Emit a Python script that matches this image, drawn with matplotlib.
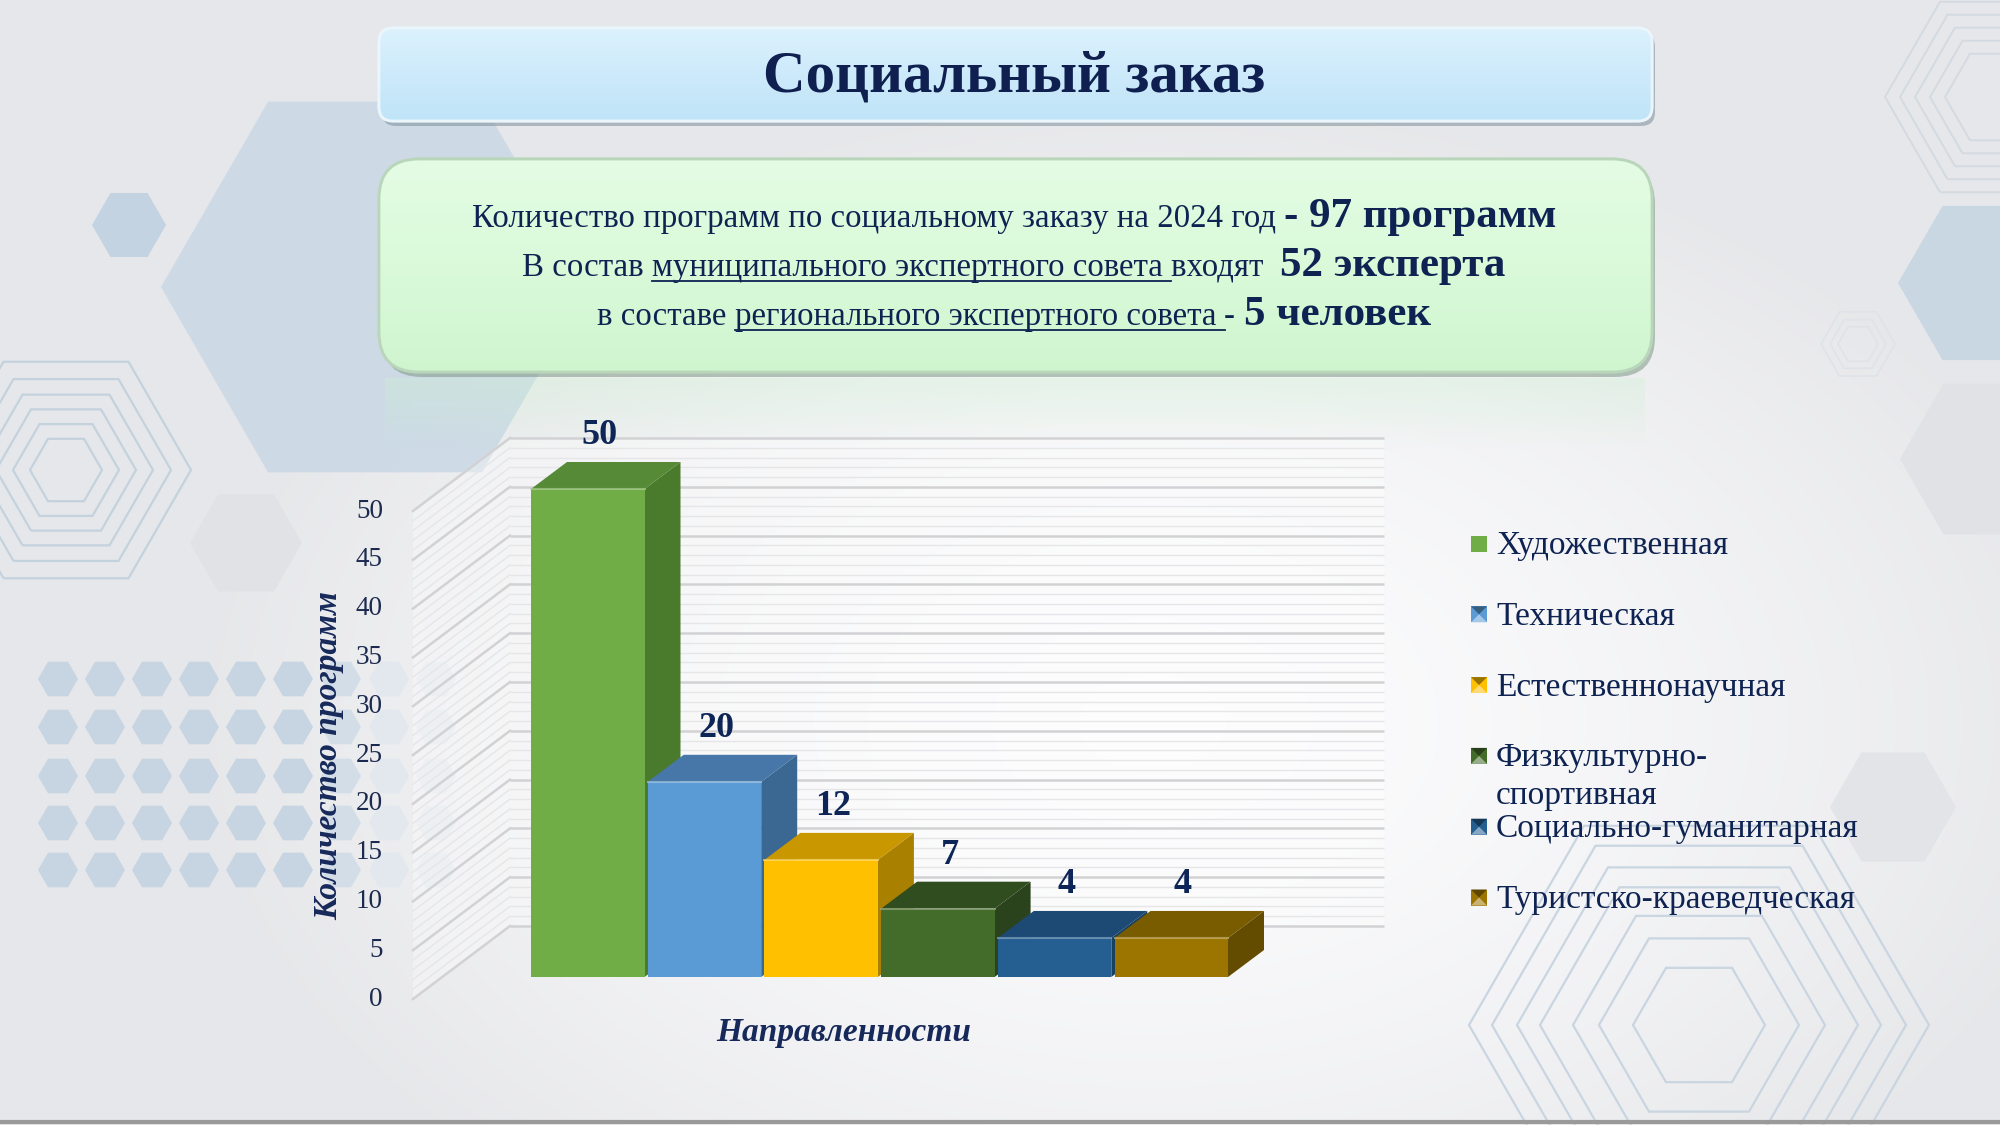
import numpy as np
import matplotlib
matplotlib.use('Agg')
import matplotlib.pyplot as plt
from matplotlib.patches import FancyBboxPatch, Polygon, RegularPolygon, Rectangle
from matplotlib.colors import to_rgb

# ---------------- data ----------------
categories = ['Художественная', 'Техническая', 'Естественнонаучная',
              'Физкультурно-\nспортивная', 'Социально-гуманитарная',
              'Туристско-краеведческая']
values = [50, 20, 12, 7, 4, 4]
y_ticks = [0, 5, 10, 15, 20, 25, 30, 35, 40, 45, 50]
front_colors = ['#70ad47', '#5b9bd5', '#ffc000', '#436b2a', '#255e91', '#9c7500']
top_colors = ['#578a36', '#4677a8', '#c99700', '#2f4d1f', '#1c4a74', '#7a5c00']
side_colors = ['#4a7a2c', '#3b6892', '#a98000', '#2a431c', '#18405f', '#634b00']

title = 'Социальный заказ'
x_title = 'Направленности'
y_title = 'Количество программ'
# (text, size, bold, underline)
info_lines = [
    [('Количество программ по социальному заказу на 2024 год ', 23.7, False, False),
     ('- 97 программ', 31, True, False)],
    [('В состав ', 23.7, False, False),
     ('муниципального экспертного совета ', 23.7, False, True),
     ('входят  ', 23.7, False, False),
     ('52 эксперта', 31, True, False)],
    [('в составе ', 23.7, False, False),
     ('регионального экспертного совета ', 23.7, False, True),
     ('- ', 23.7, False, False),
     ('5 человек', 31, True, False)],
]

SERIF = 'Liberation Serif'
NAVY = '#0e2352'
W, H = 2000, 1125

fig = plt.figure(figsize=(W / 100, H / 100), dpi=100)
bg = fig.add_axes([0, 0, 1, 1])
bg.axis('off')

# ---------------- background ----------------
yy, xx = np.mgrid[0:H:5, 0:W:5]
d = np.sqrt(((xx - 1150) / 950.0) ** 2 + ((yy - 720) / 620.0) ** 2)
t = np.clip(d, 0, 1) ** 1.5
base = np.array([0.905, 0.908, 0.918])
white = np.array([0.99, 0.99, 0.995])
img = white * (1 - t[..., None]) + base * t[..., None]
bg.imshow(img, extent=[0, W, H, 0], aspect='auto', zorder=0, interpolation='bilinear')


def hexa(cx, cy, r, fc='none', ec='none', lw=0, alpha=1.0, z=1):
    p = RegularPolygon((cx, cy), 6, radius=r, orientation=np.pi / 6,
                       facecolor=fc, edgecolor=ec, lw=lw, alpha=alpha, zorder=z)
    bg.add_patch(p)
    return p

# left decorations
hexa(375, 287, 214, fc='#c9d8e5', alpha=0.85)
hexa(129, 225, 37, fc='#c3d3e1')
hexa(246, 543, 56, fc='#e1e2e5')
for r in [36, 53, 70, 87, 105, 125]:
    hexa(66, 470, r, ec='#c4d2de', lw=1.6)
for row, yc in enumerate([679, 727, 776, 823, 870]):
    for col, xc in enumerate([58, 105, 152, 199, 246, 293, 341, 389, 436]):
        fc = '#c7d5e2' if xc < 320 else ('#d3dde7' if xc < 380 else '#e2e8ee')
        hexa(xc, yc, 20, fc=fc)
# right decorations
for r in [50, 65, 80, 95, 110]:
    hexa(1995, 97, r, ec='#d3dae1', lw=1.4)
hexa(1987, 283, 89, fc='#c9d7e3')
for r in [20, 28, 37]:
    hexa(1858, 344, r, ec='#dfe3e7', lw=1.2)
hexa(1987, 459, 87, fc='#e1e2e5')
hexa(1893, 807, 63, fc='#e3e4e7')
for r in [66, 100, 126, 159, 182, 207, 230]:
    hexa(1699, 1025, r, ec='#c9d5e0', lw=1.6)

# bottom line
bg.plot([0, W], [1122, 1122], color='#9a9a9a', lw=3, zorder=3)


# ---------------- boxes ----------------
def grad_box(x0, y0, x1, y1, rs, cols, shadow, edge, z):
    sh = FancyBboxPatch((x0 + 3, y0 + 5), x1 - x0, y1 - y0,
                        boxstyle=f'round,pad=0,rounding_size={rs}',
                        facecolor=shadow, edgecolor='none', alpha=0.55, zorder=z)
    bg.add_patch(sh)
    p = FancyBboxPatch((x0, y0), x1 - x0, y1 - y0,
                       boxstyle=f'round,pad=0,rounding_size={rs}',
                       facecolor=cols[0], edgecolor=edge, lw=2, zorder=z + 0.1)
    bg.add_patch(p)
    n = 256
    s = np.linspace(0, 1, n)
    c = [np.array(to_rgb(k)) for k in cols]
    seg = np.interp(s, np.linspace(0, 1, len(c)), np.arange(len(c)))
    arr = np.zeros((n, 1, 3))
    for i in range(n):
        k = int(min(seg[i], len(c) - 1.0001))
        f = seg[i] - k
        arr[i, 0] = c[k] * (1 - f) + c[k + 1] * f
    im = bg.imshow(arr, extent=[x0, x1, y1, y0], aspect='auto', zorder=z + 0.2,
                   interpolation='bilinear')
    im.set_clip_path(p)
    ed = FancyBboxPatch((x0, y0), x1 - x0, y1 - y0,
                        boxstyle=f'round,pad=0,rounding_size={rs}',
                        facecolor='none', edgecolor=edge, lw=2, zorder=z + 0.3)
    bg.add_patch(ed)

# reflection under info box
refl = np.linspace(0.35, 0, 64)[:, None]
rimg = np.ones((64, 1, 4))
rimg[..., 0], rimg[..., 1], rimg[..., 2] = 0.80, 0.95, 0.82
rimg[..., 3] = refl
bg.imshow(rimg, extent=[385, 1645, 450, 378], aspect='auto', zorder=3,
          interpolation='bilinear')

grad_box(379, 28, 1652, 121, 14, ['#dcf2fd', '#cdeafb', '#c0e4f8'],
         '#7f8e9a', '#eaf6fc', 4)
grad_box(379, 159, 1652, 372, 40, ['#e4fce4', '#dafada', '#cff5cf'],
         '#7e9985', '#b9d6bb', 4)

bg.text(1014, 78, title, ha='center', va='center', fontsize=42.5,
        fontweight='bold', family=SERIF, color='#0f1f4f', zorder=10)

renderer = fig.canvas.get_renderer()


def tw(s, size, bold):
    a = bg.text(0, 0, s + '|', fontsize=size, family=SERIF,
                fontweight='bold' if bold else 'normal')
    b = bg.text(0, 0, '|', fontsize=size, family=SERIF,
                fontweight='bold' if bold else 'normal')
    w = a.get_window_extent(renderer).width - b.get_window_extent(renderer).width
    a.remove(); b.remove()
    return w


def draw_runs(runs, cx, yb):
    widths = [tw(s, sz, b) for s, sz, b, u in runs]
    x = cx - sum(widths) / 2
    for (s, sz, b, u), w in zip(runs, widths):
        bg.text(x, yb, s, fontsize=sz, family=SERIF, fontweight='bold' if b else 'normal',
                ha='left', va='baseline', color=NAVY, zorder=10)
        if u:
            bg.plot([x, x + w], [yb + 5, yb + 5], color=NAVY, lw=1.3, zorder=10)
        x += w

for line, yb in zip(info_lines, [227, 276, 325]):
    draw_runs(line, 1014, yb)

# ---------------- 3D-like column chart ----------------
PX0, SX, PY0, SY = 587.75, 116.7, 977.0, 9.76
L, R, T, B = 300, 1440, 320, 1015
cax = fig.add_axes([L / W, 1 - B / H, (R - L) / W, (B - T) / H])
cax.set_xlim((L - PX0) / SX, (R - PX0) / SX)
cax.set_ylim((PY0 - B) / SY, (PY0 - T) / SY)
cax.axis('off')
cax.patch.set_alpha(0)

xw0, xw1 = (510 - PX0) / SX, (1384 - PX0) / SX
dxw, dyw = 68 / SX, 51 / SY
dxf, dyf = -29 / SX, -22 / SY
xlf = xw0 - dxw + dxf
# faint white plot walls
cax.add_patch(Polygon([(xw0, dyw), (xw1, dyw), (xw1, y_ticks[-1] + dyw), (xw0, y_ticks[-1] + dyw)],
                      closed=True, facecolor='white', alpha=0.35, edgecolor='none', zorder=0.5))
cax.add_patch(Polygon([(xlf, dyf), (xw0, dyw), (xw0, y_ticks[-1] + dyw), (xlf, y_ticks[-1] + dyf)],
                      closed=True, facecolor='white', alpha=0.35, edgecolor='none', zorder=0.5))
for v in np.arange(0, y_ticks[-1] + 1):
    major = (v % 5 == 0)
    col = '#d2d2d4' if major else '#e6e6e8'
    lw = 1.8 if major else 1.0
    cax.plot([xw0, xw1], [v + dyw, v + dyw], color=col, lw=lw, zorder=1,
             solid_capstyle='butt')
    cax.plot([xlf, xw0], [v + dyf, v + dyw], color=col, lw=lw, zorder=1)

for v in y_ticks:
    cax.text((383 - PX0) / SX, v + dyf, str(v), ha='right', va='center',
             fontsize=19.5, family=SERIF, color='#1b2a4e', zorder=5)

bw = 113.5 / SX
dxb, dyb = 36 / SX, 27 / SY
xpos = np.arange(len(values))
z = 3
for i, v in enumerate(values):
    x0, x1 = xpos[i] - bw / 2, xpos[i] + bw / 2
    cax.add_patch(Polygon([(x1, 0), (x1, v), (x1 + dxb, v + dyb), (x1 + dxb, dyb)],
                          closed=True, facecolor=side_colors[i], edgecolor='none', zorder=z))
    cax.add_patch(Polygon([(x0, v), (x1, v), (x1 + dxb, v + dyb), (x0 + dxb, v + dyb)],
                          closed=True, facecolor=top_colors[i], edgecolor='none', zorder=z))
    cax.bar([xpos[i]], [v], width=bw, color=front_colors[i], edgecolor='none', zorder=z + 0.5)
    light = 0.5 * np.array(to_rgb(front_colors[i])) + 0.5
    cax.plot([x0, x1], [v, v], color=light, lw=1.5, alpha=0.6, zorder=z + 0.6)
    cax.text(xpos[i] + 0.1, v + dyb + 2.7, str(v), ha='center', va='center',
             fontsize=26, fontweight='bold', family=SERIF, color='#0d2557', zorder=10)
    z += 1

bg.text(329, 756, y_title, rotation=90, ha='center', va='center', fontsize=24,
        fontweight='bold', fontstyle='italic', family=SERIF, color='#16295a', zorder=10)
bg.text(844, 1033, x_title, ha='center', va='center', fontsize=24,
        fontweight='bold', fontstyle='italic', family=SERIF, color='#16295a', zorder=10)

# ---------------- legend ----------------
for i, lab in enumerate(categories):
    yc = 544 + i * 70.8
    bg.add_patch(Rectangle((1471, yc - 8.5), 16, 16, facecolor=front_colors[i],
                           edgecolor='none', zorder=10))
    if i > 0:
        cx0 = 1479
        dark = 0.6 * np.array(to_rgb(front_colors[i]))
        lite = 0.55 * np.array(to_rgb(front_colors[i])) + 0.45
        bg.add_patch(Polygon([(1471, yc + 7.5), (1487, yc + 7.5), (cx0, yc - 0.5)],
                             facecolor=lite, edgecolor='none', zorder=11))
        bg.add_patch(Polygon([(1471, yc - 8.5), (1487, yc - 8.5), (cx0, yc - 0.5)],
                             facecolor=dark, edgecolor='none', zorder=11))
    for j, part in enumerate(lab.split('\n')):
        bg.text(1496, yc + 10 + j * 38, part, ha='left', va='baseline', fontsize=24,
                family=SERIF, color=NAVY, zorder=10)

bg.set_xlim(0, W)
bg.set_ylim(H, 0)
fig.savefig('out.png', dpi=100)
